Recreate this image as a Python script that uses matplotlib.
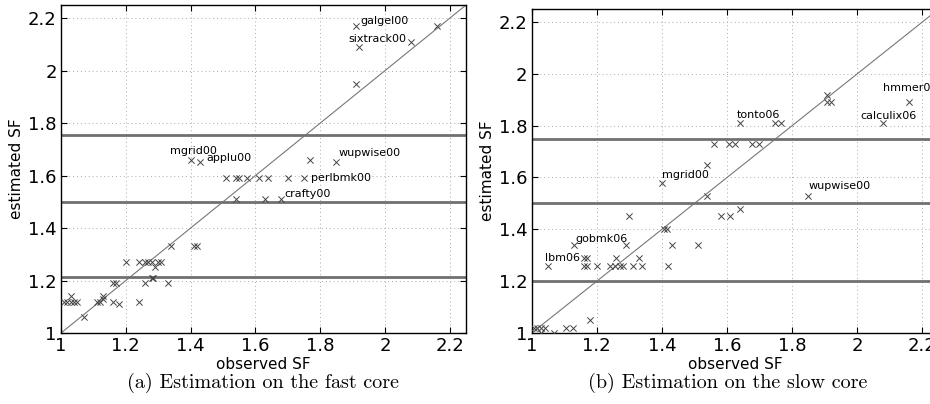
import matplotlib
matplotlib.use("Agg")
from matplotlib import pyplot as plt
from matplotlib.ticker import FormatStrFormatter

# fast core
fast_obs = [1.01, 1.02, 1.03, 1.03, 1.04, 1.05, 1.07, 1.11, 1.12, 1.13, 1.13,
            1.16, 1.16, 1.17, 1.18, 1.20, 1.24, 1.24, 1.26, 1.26, 1.27, 1.28,
            1.28, 1.285, 1.29, 1.30, 1.31, 1.33, 1.34, 1.41, 1.42,
            1.54, 1.63, 1.68,
            1.51, 1.54, 1.55, 1.575, 1.61, 1.64, 1.70, 1.75,
            1.40, 1.43, 1.77, 1.85,
            1.91, 1.91, 1.92, 2.08, 2.16]
fast_est = [1.12, 1.12, 1.12, 1.14, 1.12, 1.12, 1.06, 1.12, 1.12, 1.13, 1.14,
            1.19, 1.12, 1.19, 1.11, 1.27, 1.27, 1.12, 1.27, 1.19, 1.27, 1.27,
            1.21, 1.21, 1.25, 1.27, 1.27, 1.19, 1.33, 1.33, 1.33,
            1.51, 1.51, 1.51,
            1.59, 1.59, 1.59, 1.59, 1.59, 1.59, 1.59, 1.59,
            1.66, 1.65, 1.66, 1.65,
            1.95, 2.17, 2.09, 2.11, 2.17]
fast_lines = [1.213, 1.5, 1.755]
fast_labels = ["galgel00", "sixtrack00", "mgrid00", "applu00", "wupwise00",
               "perlbmk00", "crafty00"]
fast_label_pos = [(1.925, 2.19), (1.888, 2.12), (1.41, 1.695), (1.45, 1.667),
                  (1.855, 1.686), (1.773, 1.59), (1.69, 1.53)]
fast_label_ha = ["left", "left", "center", "left", "left", "left", "left"]

# slow core
slow_obs = [1.007, 1.017, 1.03, 1.04, 1.03, 1.07, 1.106, 1.128, 1.18,
            1.05, 1.13, 1.16, 1.17, 1.16, 1.17, 1.20, 1.24, 1.256, 1.27,
            1.28, 1.31, 1.34, 1.26, 1.33, 1.29, 1.30, 1.405, 1.417, 1.42,
            1.43, 1.51, 1.54, 1.58, 1.61, 1.64, 1.85,
            1.40, 1.54, 1.56, 1.605, 1.626, 1.677, 1.697, 1.64, 1.746, 1.767,
            1.908, 1.908, 1.918, 2.08, 2.16]
slow_est = [1.02, 1.02, 1.02, 1.02, 1.00, 1.00, 1.02, 1.02, 1.05,
            1.26, 1.34, 1.29, 1.29, 1.26, 1.26, 1.26, 1.26, 1.26, 1.26,
            1.26, 1.26, 1.26, 1.29, 1.29, 1.34, 1.45, 1.40, 1.40, 1.26,
            1.34, 1.34, 1.53, 1.45, 1.45, 1.48, 1.53,
            1.58, 1.65, 1.73, 1.73, 1.73, 1.73, 1.73, 1.81, 1.81, 1.81,
            1.92, 1.89, 1.89, 1.81, 1.89]
slow_lines = [1.2, 1.5, 1.75]
slow_labels = ["lbm06", "gobmk06", "mgrid00", "wupwise00", "tonto06",
               "calculix06", "hmmer06"]
slow_label_pos = [(1.04, 1.29), (1.133, 1.364), (1.40, 1.61), (1.85, 1.568),
                  (1.63, 1.84), (2.01, 1.838), (2.08, 1.944)]
slow_label_ha = ["left"] * 7

ticks = [1, 1.2, 1.4, 1.6, 1.8, 2, 2.2]
captions = ["(a) Estimation on the fast core", "(b) Estimation on the slow core"]

fig = plt.figure(figsize=(9.3, 4.04), dpi=100)
ax1 = fig.add_axes([0.0656, 0.1757, 0.4355, 0.8119])
ax2 = fig.add_axes([0.5717, 0.1757, 0.4376, 0.8020])

panels = [
    (ax1, fast_obs, fast_est, fast_lines, fast_labels, fast_label_pos, fast_label_ha),
    (ax2, slow_obs, slow_est, slow_lines, slow_labels, slow_label_pos, slow_label_ha),
]

for ax, obs, est, hl, labs, lpos, lha in panels:
    ax.set_xlim(1, 2.25)
    ax.set_ylim(1, 2.25)
    ax.plot([1, 2.25], [1, 2.25], color="#777777", lw=0.8, zorder=2)
    for h in hl:
        ax.axhline(h, color="#707070", lw=2.0, zorder=2)
    ax.scatter(obs, est, marker="x", s=20, color="#444444", linewidths=0.7,
               zorder=3)
    for t, (tx, ty), ha in zip(labs, lpos, lha):
        ax.text(tx, ty, t, fontsize=8, ha=ha, va="center", color="black",
                zorder=4, clip_on=False)
    ax.set_xticks(ticks)
    ax.set_yticks(ticks)
    ax.xaxis.set_major_formatter(FormatStrFormatter("%g"))
    ax.yaxis.set_major_formatter(FormatStrFormatter("%g"))
    ax.tick_params(direction="in", top=True, right=True, labelsize=13,
                   length=4, width=0.8, pad=3)
    ax.grid(True, linestyle=(0, (1, 3)), color="#aaaaaa", lw=0.7)
    ax.set_axisbelow(True)
    ax.set_xlabel("observed SF", fontsize=11, labelpad=1)
    ax.set_ylabel("estimated SF", fontsize=11, labelpad=3)
    for s in ax.spines.values():
        s.set_linewidth(1.0)

fig.text(263 / 930, 1 - 383 / 404, captions[0], fontsize=14.5,
         family="cmr10", ha="center", va="center")
fig.text(728 / 930, 1 - 383 / 404, captions[1], fontsize=14.5,
         family="cmr10", ha="center", va="center")

fig.savefig("out.png", dpi=100)
